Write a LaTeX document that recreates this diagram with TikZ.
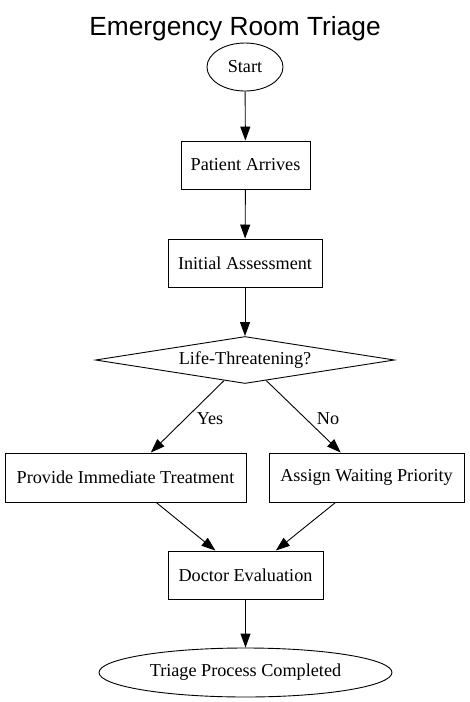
\documentclass[tikz,border=0pt]{standalone}
\usepackage{fontspec}
\setmainfont{Liberation Serif}
\newfontfamily\titlefont{Liberation Sans}
\usetikzlibrary{shapes.geometric,arrows.meta}
\begin{document}
\begin{tikzpicture}[x=1pt,y=-1pt,
  every node/.style={font=\fontsize{18.2}{22}\selectfont, inner sep=0pt},
  boxnode/.style={draw, rectangle, line width=0.9pt},
  ovalnode/.style={draw, ellipse, line width=0.9pt},
  decnode/.style={draw, diamond, aspect=6.36, line width=0.9pt},
  flow/.style={-{Triangle[length=14pt,width=10pt]}, line width=0.9pt},
  lbl/.style={anchor=base}]
\useasboundingbox (0,0) rectangle (469,702);
\node[anchor=base, font=\titlefont\fontsize{26.3}{30}\selectfont] (title) at (235,35) {Emergency Room Triage};
\node[ovalnode, minimum width=76pt, minimum height=48pt] (start) at (245,67) {Start};
\node[boxnode, minimum width=129pt, minimum height=48pt] (arr) at (245.5,165) {Patient Arrives};
\node[boxnode, minimum width=154pt, minimum height=48pt] (ass) at (245,263) {Initial Assessment};
\node[decnode, minimum width=299pt, minimum height=47pt] (dec) at (245,360) {Life-Threatening?};
\node[boxnode, minimum width=241pt, minimum height=49pt] (trt) at (125.5,477.5) {Provide Immediate Treatment};
\node[boxnode, minimum width=195pt, minimum height=49pt] (wait) at (366.5,477.5) {Assign Waiting Priority};
\node[boxnode, minimum width=155pt, minimum height=48pt] (doc) at (245.5,575) {Doctor Evaluation};
\node[ovalnode, minimum width=293pt, minimum height=49pt] (end) at (245.5,672.5) {Triage Process Completed};
\draw[flow] (start) -- (arr);
\draw[flow] (arr) -- (ass);
\draw[flow] (ass) -- (dec);
\draw[flow] (dec) -- (trt);
\draw[flow] (dec) -- (wait);
\draw[flow] (trt) -- (doc);
\draw[flow] (wait) -- (doc);
\draw[flow] (doc) -- (end);
\node[lbl] (yes) at (210,424) {Yes};
\node[lbl] (no) at (328,424) {No};
\end{tikzpicture}
\end{document}
